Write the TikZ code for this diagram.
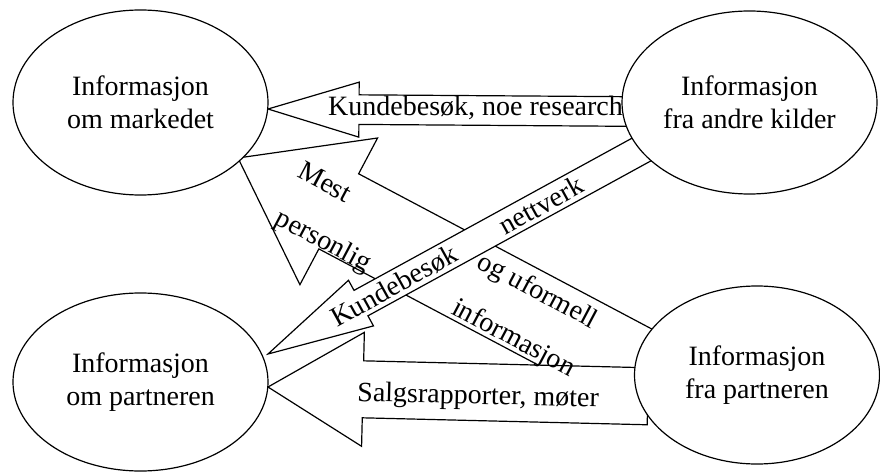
\documentclass[tikz,border=0pt]{standalone}
\usepackage{fontspec}
\setmainfont{Liberation Serif}
\usetikzlibrary{shapes.geometric}

% Hollow block arrow: tip point, direction towards the tail (degrees),
% total length, body half-width, head half-width, head length
\newcommand\blockarrow[6]{%
  \begin{scope}[shift={#1}, rotate=#2]
    \draw[arrowbox] (0,0) -- (#6,#5) -- (#6,#4) -- (#3,#4) -- (#3,-#4)
      -- (#6,-#4) -- (#6,-#5) -- cycle;
  \end{scope}}

\begin{document}
\begin{tikzpicture}[x=1pt,y=-1pt,
  every node/.style={font=\fontsize{28}{33}\selectfont},
  bubble/.style={ellipse, draw, line width=1.2pt, fill=white, inner sep=0pt, align=center},
  arrowbox/.style={draw, line width=1.2pt, fill=white, line join=miter},
  lbl/.style={inner sep=0pt}]
\useasboundingbox (0,0) rectangle (880,473);

% block arrows, back to front
\blockarrow{(238,158)}{-27.9}{470}{42.5}{83}{114}   % partner -> market
\blockarrow{(268,354)}{28.7}{440}{14.5}{26}{106}    % other sources -> partner
\blockarrow{(268,387)}{-1.4}{380}{28.5}{57}{95}     % from partner -> about partner
\blockarrow{(268,109)}{-0.4}{370}{14.8}{27.5}{91}   % other sources -> market

% arrow labels
\node[lbl, anchor=base west] (lblvisit) at (328,116) {Kundebesøk, noe research};
\node[lbl, anchor=base west, rotate=-1.4] (lblsales) at (357,401) {Salgsrapporter, møter};
\node[lbl, rotate=-28] (lblmest) at (325,182) {Mest};
\node[lbl, rotate=-28] (lblpers) at (323,242) {personlig};
\node[lbl, rotate=-28] (lblogu) at (537,292) {og uformell};
\node[lbl, rotate=-28] (lblinfo) at (513,339) {informasjon};
\node[lbl, rotate=29] (lblkunde) at (394,286) {Kundebesøk};
\node[lbl, rotate=29] (lblnett) at (541,205) {nettverk};

% information sources
\node[bubble, minimum width=255pt, minimum height=185pt] (market) at (140.5,102.5) {Informasjon\\om markedet};
\node[bubble, minimum width=255pt, minimum height=183pt] (others) at (749.5,102.5) {Informasjon\\fra andre kilder};
\node[bubble, minimum width=255pt, minimum height=178pt] (about) at (140.5,382) {Informasjon\\om partneren};
\node[bubble, minimum width=245pt, minimum height=178pt] (from) at (757,375) {Informasjon\\fra partneren};
\end{tikzpicture}
\end{document}
